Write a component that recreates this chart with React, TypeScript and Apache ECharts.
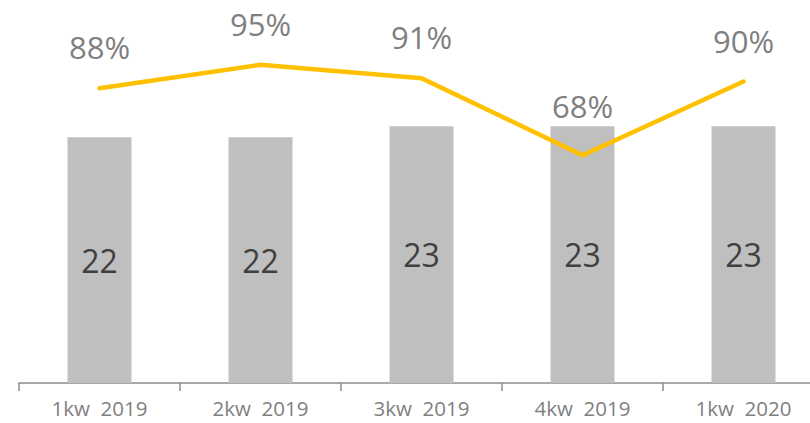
import React, { useEffect, useRef } from "react";
import * as echarts from "echarts";

const categories = ["1kw  2019", "2kw  2019", "3kw  2019", "4kw  2019", "1kw  2020"];
const barValues = [22, 22, 23, 23, 23];
const pctValues = [88, 95, 91, 68, 90];

export default function App() {
  const ref = useRef<HTMLDivElement>(null);
  useEffect(() => {
    document.body.style.margin = "0";
    const chart = echarts.init(ref.current!, null, { renderer: "svg" });
    chart.setOption({
      animation: false,
      textStyle: { fontFamily: "'Open Sans', sans-serif" },
      grid: { left: 19, top: 48, width: 805, height: 335, outerBoundsMode: "none", containLabel: false },
      xAxis: {
        type: "category",
        data: categories,
        boundaryGap: true,
        axisLine: { lineStyle: { color: "#8c8c8c", width: 1.5 } },
        axisTick: { show: true, length: 8, alignWithLabel: false, lineStyle: { color: "#8c8c8c", width: 1.5 } },
        axisLabel: {
          color: "#7f7f7f",
          fontSize: 20.5,
          lineHeight: 20,
          margin: 15,
          fontFamily: "'Open Sans', sans-serif",
        },
      },
      yAxis: [
        { type: "value", min: 0, max: 30, show: false, splitLine: { show: false } },
        { type: "value", min: 0, max: 100, show: false, splitLine: { show: false } },
      ],
      series: [
        {
          type: "bar",
          data: barValues,
          barWidth: 64,
          itemStyle: { color: "#bfbfbf" },
          label: {
            show: true,
            position: "inside",
            color: "#404040",
            fontSize: 32,
            fontFamily: "'Open Sans', sans-serif",
          },
          z: 1,
        },
        {
          type: "line",
          yAxisIndex: 1,
          data: pctValues.map((v, i) =>
            i === 3 ? { value: v, label: { distance: 33 } } : { value: v }
          ),
          showSymbol: true,
          symbol: "circle",
          symbolSize: 1,
          lineStyle: { color: "#ffc000", width: 4.5, cap: "round", join: "miter" },
          itemStyle: { color: "rgba(255,192,0,0)", borderWidth: 0 },
          label: {
            show: true,
            position: "top",
            distance: 25,
            color: "#7f7f7f",
            opacity: 1,
            fontSize: 31,
            fontFamily: "'Open Sans', sans-serif",
            formatter: (p: any) => p.value + "%",
          },
          labelLayout: { hideOverlap: false },
          z: 3,
        },
      ],
    });
    return () => chart.dispose();
  }, []);
  return <div ref={ref} style={{ width: 810, height: 423 }} />;
}
